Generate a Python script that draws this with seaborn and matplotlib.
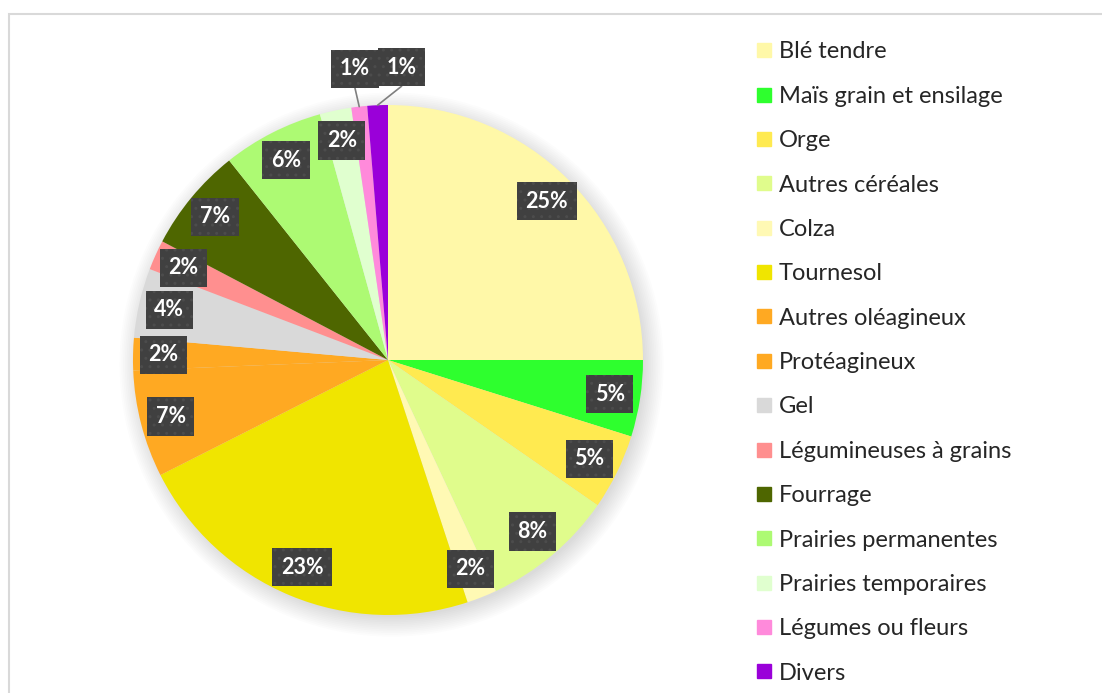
import numpy as np
import matplotlib
matplotlib.use("Agg")
import matplotlib.pyplot as plt
import seaborn as sns
from matplotlib.lines import Line2D
from matplotlib.patches import Circle, Rectangle

# Données : répartition des surfaces (%)
cultures = ["Blé tendre", "Maïs grain et ensilage", "Orge", "Autres céréales", "Colza",
            "Tournesol", "Autres oléagineux", "Protéagineux", "Gel",
            "Légumineuses à grains", "Fourrage", "Prairies permanentes",
            "Prairies temporaires", "Légumes ou fleurs", "Divers"]
parts = [25.0, 4.85, 4.8, 8.4, 1.9, 22.6, 6.8, 2.05, 4.4, 1.9, 6.6, 6.4, 2.0, 1.0, 1.3]
couleurs = ["#FFF8A8", "#2EFF2E", "#FFEA50", "#E0FC8C", "#FFF9B4", "#F0E500",
            "#FFA922", "#FFA922", "#D9D9D9", "#FF8F8F", "#4E6600", "#ADFA73",
            "#E0FFCF", "#FF8ADB", "#9A00D9"]

# distance des étiquettes (en rayons) et décalage angulaire (degrés)
dist_etiq = [0.88] * 13 + [1.15, 1.15]
decal_etiq = [0] * 13 + [0, -5]

sns.set_theme(style="white")
plt.rcParams["font.family"] = ["Lato", "DejaVu Sans"]
plt.rcParams["hatch.linewidth"] = 1.0

fig = plt.figure(figsize=(11.02, 6.93), dpi=100)
fig.patches.append(Rectangle((9 / 1102, -0.1), 1.2, (693 - 14) / 693 + 0.1,
                             transform=fig.transFigure, fill=False,
                             ec="#D9D9D9", lw=1.5, zorder=0))

# axe du camembert : centre (388, 360), rayon 255 px
W = 1102
H = 693
R = 255
lim = 1.3
taille = 2 * lim * R
ax = fig.add_axes([(388 - taille / 2) / W, (H - 360 - taille / 2) / H, taille / W, taille / H])

# ombre douce
for k in range(12):
    ax.add_patch(Circle((0.014, -0.018), 0.99 + k * 0.007, color="black",
                        alpha=0.012, lw=0, zorder=0))

wedges, _ = ax.pie(parts, colors=couleurs, startangle=90, counterclock=False,
                   radius=1.0, wedgeprops=dict(linewidth=0))
for w in wedges:
    w.set_zorder(2)

ax.set_xlim(-lim, lim)
ax.set_ylim(-lim, lim)
ax.set_aspect("equal")
ax.axis("off")

for w, v, d, da in zip(wedges, parts, dist_etiq, decal_etiq):
    ang = np.deg2rad((w.theta1 + w.theta2) / 2)
    ang_lbl = ang + np.deg2rad(da)
    x, y = d * np.cos(ang_lbl), d * np.sin(ang_lbl)
    if d > 1.0:
        ax.plot([np.cos(ang), x], [np.sin(ang), y - 0.075],
                color="#7F7F7F", lw=1.2, zorder=3)
    ax.text(x, y, f"{v:.0f}%", ha="center", va="center", color="white",
            fontsize=15.5, fontweight="bold", zorder=5,
            bbox=dict(boxstyle="square,pad=0.4", fc="#404040", ec="#4C4C4C",
                      lw=0, hatch=".."))

# légende
poignees = [Line2D([0], [0], marker="s", ls="none", markersize=10,
                   markerfacecolor=c, markeredgecolor=c) for c in couleurs]
fig.legend(poignees, cultures, loc="upper left", bbox_to_anchor=(746 / W, 1 - 32 / H),
           frameon=False, fontsize=17, handlelength=0.7, handletextpad=0.3,
           labelspacing=0.99, borderaxespad=0)

fig.savefig("out.png", dpi=100)
